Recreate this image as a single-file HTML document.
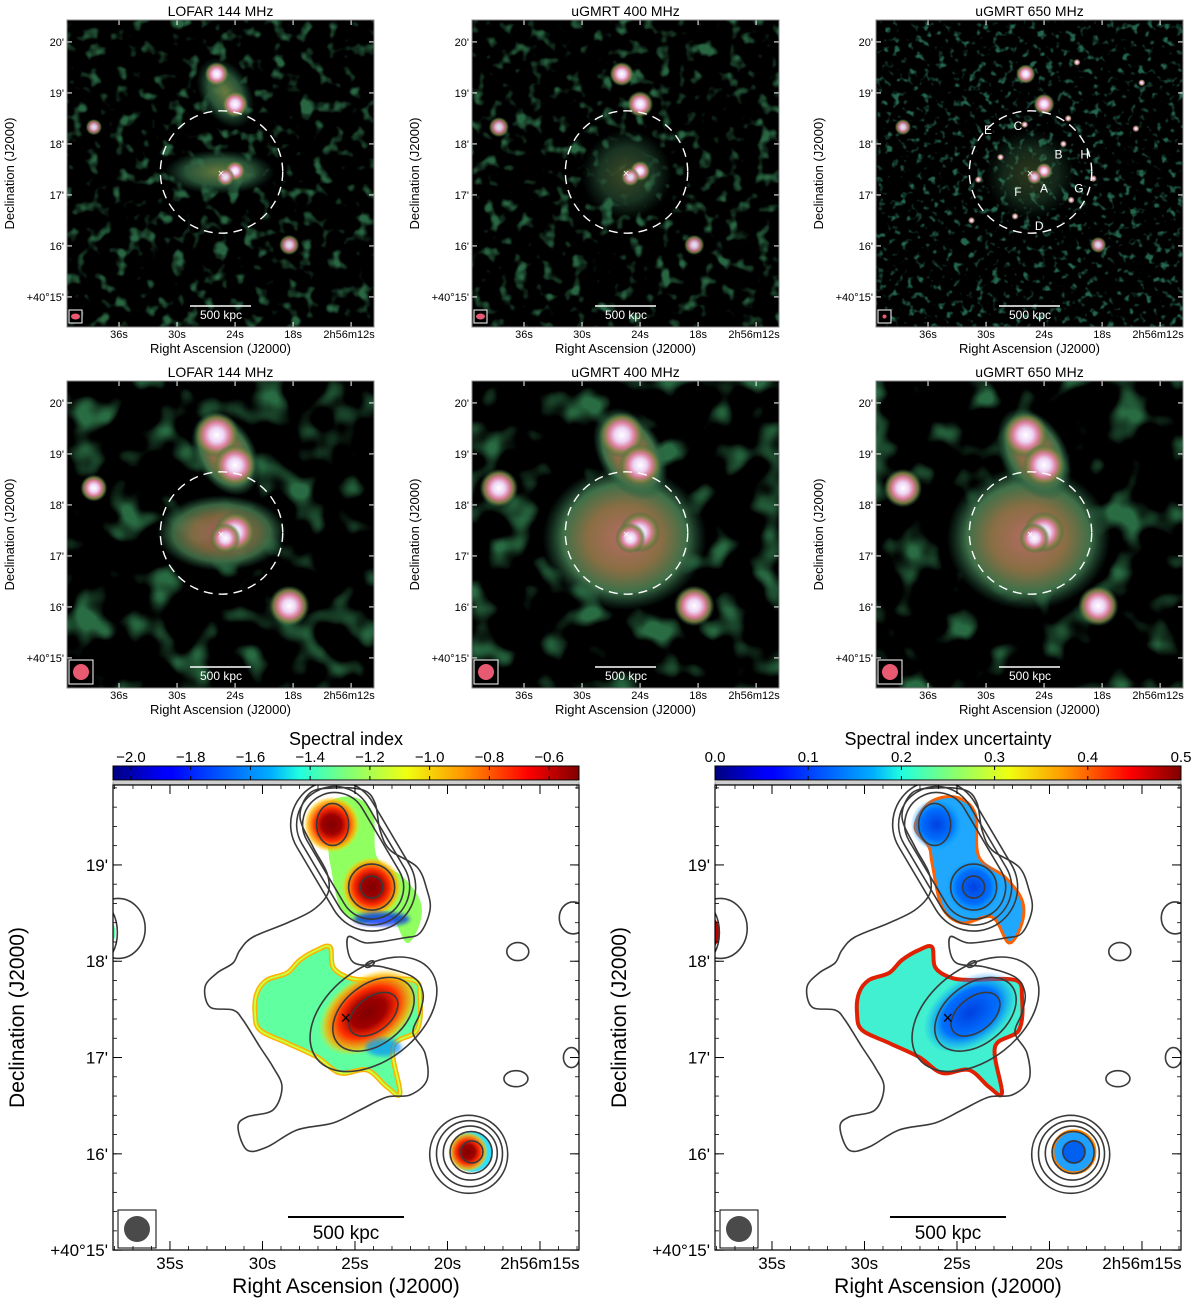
<!DOCTYPE html>
<html><head><meta charset="utf-8">
<style>
html,body{margin:0;padding:0;background:#fff;}
svg{display:block;font-family:"Liberation Sans","DejaVu Sans",sans-serif;}
</style></head>
<body>
<svg id="fig" width="1200" height="1306" viewBox="0 0 1200 1306" xmlns="http://www.w3.org/2000/svg">
<defs>
  <filter id="noiseA" x="0" y="0" width="1" height="1" color-interpolation-filters="sRGB">
    <feTurbulence type="fractalNoise" baseFrequency="0.07" numOctaves="2" seed="3"/>
    <feColorMatrix type="matrix" values="0 0 0 0 0.16  0 0 0 0 0.40  0 0 0 0 0.26  4.5 0 0 0 -2.5"/>
  </filter>
  <filter id="noiseC" x="0" y="0" width="1" height="1" color-interpolation-filters="sRGB">
    <feTurbulence type="fractalNoise" baseFrequency="0.13" numOctaves="2" seed="7"/>
    <feColorMatrix type="matrix" values="0 0 0 0 0.14  0 0 0 0 0.40  0 0 0 0 0.30  5 0 0 0 -2.85"/>
  </filter>
  <filter id="noiseB" x="0" y="0" width="1" height="1" color-interpolation-filters="sRGB">
    <feTurbulence type="fractalNoise" baseFrequency="0.028" numOctaves="2" seed="11"/>
    <feColorMatrix type="matrix" values="0 0 0 0 0.16  0 0 0 0 0.42  0 0 0 0 0.26  4.5 0 0 0 -2.45"/>
  </filter>
  <filter id="blur2"><feGaussianBlur stdDeviation="2"/></filter>
  <radialGradient id="srcGrad">
    <stop offset="0" stop-color="#ffffff"/>
    <stop offset="0.3" stop-color="#eed6f6"/>
    <stop offset="0.55" stop-color="#dc7f9c"/>
    <stop offset="0.78" stop-color="#7c8040" stop-opacity="0.9"/>
    <stop offset="1" stop-color="#2e6a48" stop-opacity="0"/>
  </radialGradient>
  <radialGradient id="haloGrad">
    <stop offset="0" stop-color="#b46c62"/>
    <stop offset="0.45" stop-color="#8a6e44"/>
    <stop offset="0.75" stop-color="#3f7048"/>
    <stop offset="1" stop-color="#1f5a40" stop-opacity="0"/>
  </radialGradient>
  <radialGradient id="haloGradWeak">
    <stop offset="0" stop-color="#6b7a3e"/>
    <stop offset="0.6" stop-color="#356a46" stop-opacity="0.8"/>
    <stop offset="1" stop-color="#1f5a40" stop-opacity="0"/>
  </radialGradient>
  <radialGradient id="redCore">
    <stop offset="0" stop-color="#800000"/>
    <stop offset="0.35" stop-color="#a00000"/>
    <stop offset="0.6" stop-color="#ff3000"/>
    <stop offset="0.85" stop-color="#ffb000" stop-opacity="0.8"/>
    <stop offset="1" stop-color="#ffe000" stop-opacity="0"/>
  </radialGradient>
  <radialGradient id="blueCore">
    <stop offset="0" stop-color="#0040e0"/>
    <stop offset="0.6" stop-color="#0070ff"/>
    <stop offset="1" stop-color="#00a0ff" stop-opacity="0"/>
  </radialGradient>
  <linearGradient id="jet" x1="0" x2="1" y1="0" y2="0">
    <stop offset="0" stop-color="#00007f"/>
    <stop offset="0.11" stop-color="#0000ff"/>
    <stop offset="0.125" stop-color="#0000ff"/>
    <stop offset="0.34" stop-color="#00b0ff"/>
    <stop offset="0.4" stop-color="#20ffe0"/>
    <stop offset="0.5" stop-color="#7dff7a"/>
    <stop offset="0.63" stop-color="#f0ff10"/>
    <stop offset="0.75" stop-color="#ff9800"/>
    <stop offset="0.89" stop-color="#ff0000"/>
    <stop offset="1" stop-color="#7f0000"/>
  </linearGradient>
</defs>
<g id="root"></g>
</svg>
<script>
// ---------- data ----------
const panelTitles = ["LOFAR 144 MHz","uGMRT 400 MHz","uGMRT 650 MHz"];
const raTickSecs = [36,30,24,18,12];
const raTickLabels = ["36s","30s","24s","18s","2h56m12s"];
const decTickMins = [20,19,18,17,16,15];
const decTickLabels = ["20'","19'","18'","17'","16'","+40°15'"];
const bigRaTickSecs = [35,30,25,20,15];
const bigRaTickLabels = ["35s","30s","25s","20s","2h56m15s"];
const bigDecTickMins = [19,18,17,16,15];
const bigDecTickLabels = ["19'","18'","17'","16'","+40°15'"];
const cbTicksA = [-2.0,-1.8,-1.6,-1.4,-1.2,-1.0,-0.8,-0.6];
const cbTicksB = [0.0,0.1,0.2,0.3,0.4,0.5];
const srcRA  = [25.9, 24.0, 24.0, 25.0, 18.4, 38.6];
const srcDec = [19.37,18.78,17.47,17.35,16.02,18.33];
const srcNames = ["north-galaxy-1","north-galaxy-2","central-galaxy-a","central-galaxy-b","south-source","west-source"];
const srcSizeTop = [[0.24,0.8],[0.26,0.9],[0.2,0.8],[0.18,0.7],[0.2,0.7],[0.2,0.7]];
const srcSizeMid = [[0.45,1],[0.42,1],[0.4,1],[0.3,0.8],[0.4,1],[0.38,1]];
const haloRA = 25.4, haloDec = 17.45, haloR = 1.2;
const labelNames = ["E","C","B","H","F","A","G","D"];
const labelRA = [29.8,26.7,22.5,19.8,26.7,24.0,20.4,24.5];
const labelDec = [18.27,18.35,17.79,17.79,17.06,17.13,17.13,16.39];
const extraRA650 = [28.5,26.0,31.5,21.5,18.9,14.5,13.9,27.0,22.0,30.8,21.2,20.6];
const extraDec650 = [17.74,18.38,16.5,18.5,17.32,18.3,19.2,16.58,18.0,17.3,16.9,19.6];

const root = document.getElementById('root');
const NS = "http://www.w3.org/2000/svg";
function el(tag, attrs, parent){
  const e = document.createElementNS(NS, tag);
  for (const k in attrs) e.setAttribute(k, attrs[k]);
  (parent||root).appendChild(e);
  return e;
}
function txt(s, attrs, parent){ const t = el('text', attrs, parent); t.textContent = s; return t; }

const panelX = [67,472,876], panelY = [20,381];
const PS = 307;
function smallAxes(x0,y0){
  return {
    x: ra => x0 + (41.38 - ra) * 9.67,
    y: dec => y0 + (20.43 - dec) * 51
  };
}
for (let row=0; row<2; row++){
  for (let c=0; c<3; c++){
    const x0 = panelX[c], y0 = panelY[row];
    const ax = smallAxes(x0,y0);
    const g = el('g',{});
    
    
    const cid = 'clip'+row+c;
    const cp = el('clipPath',{id:cid},g); el('rect',{x:x0,y:y0,width:PS,height:PS},cp);
    const ig = el('g',{'clip-path':'url(#'+cid+')'},g);
    el('rect',{x:x0,y:y0,width:PS,height:PS,fill:'#000'},ig);
    const nf = row===1 ? 'noiseB' : (c===2 ? 'noiseC' : 'noiseA');
    el('rect',{x:x0,y:y0,width:PS,height:PS,filter:'url(#'+nf+')'},ig);
    if (row===0 && c===0){
      el('ellipse',{cx:ax.x(25.6),cy:ax.y(17.45),rx:55,ry:22,fill:'url(#haloGradWeak)'},ig);
      el('ellipse',{cx:ax.x(25.0),cy:ax.y(19.0),rx:25,ry:38,fill:'url(#haloGradWeak)',transform:'rotate(-30 '+ax.x(25.0)+' '+ax.y(19.0)+')'},ig);
    } else if (row===0 && c===1){
      el('ellipse',{cx:ax.x(25.4),cy:ax.y(17.4),rx:45,ry:45,fill:'url(#haloGradWeak)',opacity:0.6},ig);
    } else if (row===0 && c===2){
      el('ellipse',{cx:ax.x(25.4),cy:ax.y(17.4),rx:45,ry:45,fill:'url(#haloGradWeak)',opacity:0.45},ig);
    } else if (row===1){
      if (c===0){
        el('ellipse',{cx:ax.x(25.4),cy:ax.y(17.45),rx:65,ry:38,fill:'url(#haloGrad)',opacity:0.9},ig);
        el('ellipse',{cx:ax.x(25.0),cy:ax.y(19.0),rx:30,ry:45,fill:'url(#haloGrad)',transform:'rotate(-30 '+ax.x(25.0)+' '+ax.y(19.0)+')'},ig);
      } else {
        el('ellipse',{cx:ax.x(25.6),cy:ax.y(17.35),rx:82,ry:72,fill:'url(#haloGrad)'},ig);
        el('ellipse',{cx:ax.x(25.0),cy:ax.y(19.0),rx:32,ry:50,fill:'url(#haloGrad)',transform:'rotate(-30 '+ax.x(25.0)+' '+ax.y(19.0)+')'},ig);
      }
    }
    for (let i=0;i<srcRA.length;i++){
      const sz = row===0 ? srcSizeTop[i] : srcSizeMid[i];
      let r = sz[0]*51*(row===0 && c===2 ? 0.8 : 1);
      if (row===1 && c===0 && i===5) r *= 0.7;
      if (row===0 && c===0 && i===5) r *= 0.8;
      const e = el('circle',{cx:ax.x(srcRA[i]),cy:ax.y(srcDec[i]),r:r,fill:'url(#srcGrad)',opacity:Math.min(1,sz[1]+0.2)},ig);
      
      
    }
    if (row===0 && c===2){
      for (let k=0;k<extraRA650.length;k++){
        el('circle',{cx:ax.x(extraRA650[k]),cy:ax.y(extraDec650[k]),r:3.5,fill:'url(#srcGrad)'},ig);
      }
    }
    const dc = el('circle',{cx:ax.x(haloRA),cy:ax.y(haloDec),r:haloR*51,fill:'none',stroke:'#fff','stroke-width':1.4,'stroke-dasharray':'9 6'},ig);
    
    
    txt('×',{x:ax.x(25.45),y:ax.y(17.43)+4,fill:'#fff','font-size':11,'text-anchor':'middle'},ig);
    if (row===0 && c===2){
      for (let k=0;k<labelNames.length;k++){
        const t = txt(labelNames[k],{x:ax.x(labelRA[k]),y:ax.y(labelDec[k])+4,fill:'#fff','font-size':12,'text-anchor':'middle'},ig);
        
        
      }
    }
    el('line',{x1:x0+123,x2:x0+184,y1:y0+286,y2:y0+286,stroke:'#fff','stroke-width':1.5},ig);
    const sb = txt('500 kpc',{x:x0+154,y:y0+299,fill:'#fff','font-size':12,'text-anchor':'middle'},ig);
    
    
    const bs = row===0 ? 13 : 24;
    el('rect',{x:x0+2,y:y0+PS-bs-4,width:bs,height:bs,fill:'#000',stroke:'#fff','stroke-width':1},ig);
    const beam = el('ellipse',{cx:x0+2+bs/2,cy:y0+PS-4-bs/2,rx:row===0?(c===2?2:4.5):8,ry:row===0?(c===2?2:3):8,fill:'#e85a72'},ig);
    
    
    for (let k=0;k<raTickSecs.length;k++){
      const xx = ax.x(raTickSecs[k]);
      el('line',{x1:xx,x2:xx,y1:y0+PS,y2:y0+PS-5,stroke:'#fff','stroke-width':1},ig);
      el('line',{x1:xx,x2:xx,y1:y0,y2:y0+5,stroke:'#fff','stroke-width':1},ig);
    }
    for (let k=0;k<decTickMins.length;k++){
      const yy = ax.y(decTickMins[k]);
      el('line',{x1:x0,x2:x0+5,y1:yy,y2:yy,stroke:'#fff','stroke-width':1},ig);
      el('line',{x1:x0+PS,x2:x0+PS-5,y1:yy,y2:yy,stroke:'#fff','stroke-width':1},ig);
    }
    el('rect',{x:x0,y:y0,width:PS,height:PS,fill:'none',stroke:'#888','stroke-width':1},g);
    const t = txt(panelTitles[c],{x:x0+PS/2,y:y0-4,'font-size':14,'text-anchor':'middle',fill:'#000'},g);
    
    
    for (let k=0;k<raTickSecs.length;k++){
      txt(raTickLabels[k],{x:ax.x(raTickSecs[k]) + (k===4?-2:0),y:y0+PS+11,'font-size':11,'text-anchor':'middle'},g);
    }
    for (let k=0;k<decTickMins.length;k++){
      txt(decTickLabels[k],{x:x0-3,y:ax.y(decTickMins[k])+4,'font-size':11,'text-anchor':'end'},g);
    }
    const xt = txt('Right Ascension (J2000)',{x:x0+PS/2,y:y0+PS+26,'font-size':13,'text-anchor':'middle'},g);
    
    
    const yt = txt('Declination (J2000)',{x:0,y:0,'font-size':13,'text-anchor':'middle',transform:'translate('+(x0-53)+','+(y0+PS/2)+') rotate(-90)'},g);
    
    
  }
}

const bigX = [113,715], bigY = 785, BW = 466, BH = 465;
const outerContour = [[348,937],[353,962],[383,967],[413,977],[423,993],[420,1013],[413,1033],[425,1053],[427,1080],[410,1095],[387,1097],[360,1110],[333,1123],[297,1130],[267,1147],[247,1150],[238,1127],[247,1117],[273,1110],[282,1087],[273,1067],[260,1047],[243,1020],[233,1010],[210,1007],[205,987],[217,973],[233,963],[240,950],[253,937],[287,923],[313,910],[328,893],[327,873],[313,847],[300,817],[310,793],[333,788],[363,790],[375,803],[380,830],[390,850],[417,867],[427,890],[430,910],[420,933],[403,938],[367,943]];
const centralPatch = [[257,993],[267,980],[287,973],[300,960],[317,950],[330,947],[333,967],[347,977],[367,980],[413,980],[420,997],[417,1030],[393,1047],[400,1093],[387,1087],[367,1070],[340,1073],[317,1057],[287,1043],[260,1030],[255,1013]];
const northPatch = [[313,827],[327,803],[353,797],[373,813],[377,857],[403,877],[420,900],[420,923],[407,943],[390,917],[360,923],[340,907],[330,863],[327,847]];

function smoothPath(pts, dx){
  const n = pts.length; let d = '';
  for (let i=0;i<n;i++){
    const p0 = pts[(i-1+n)%n], p1 = pts[i], p2 = pts[(i+1)%n], p3 = pts[(i+2)%n];
    if (i===0) d += 'M'+(p1[0]+dx)+','+p1[1];
    const c1x = p1[0]+(p2[0]-p0[0])/6, c1y = p1[1]+(p2[1]-p0[1])/6;
    const c2x = p2[0]-(p3[0]-p1[0])/6, c2y = p2[1]-(p3[1]-p1[1])/6;
    d += 'C'+(c1x+dx)+','+c1y+' '+(c2x+dx)+','+c2y+' '+(p2[0]+dx)+','+p2[1];
  }
  return d+'Z';
}
function bigAxes(x0){
  return {
    x: ra => x0 + (38.08 - ra) * 18.5,
    y: dec => bigY + (19.83 - dec) * 96.3
  };
}
const bigN1 = [26.1,19.42], bigN2 = [24.1,18.77], bigS = [18.68,16.02];
for (let p=0;p<2;p++){
  const x0 = bigX[p], dx = x0 - bigX[0];
  const ax = bigAxes(x0);
  const g = el('g',{});
  
  
  const cid = 'bclip'+p;
  const cp = el('clipPath',{id:cid},g); el('rect',{x:x0,y:bigY,width:BW,height:BH},cp);
  const ig = el('g',{'clip-path':'url(#'+cid+')'},g);
  el('rect',{x:x0,y:bigY,width:BW,height:BH,fill:'#fff'},ig);
  const cx = ax.x(srcRA[2]), cy = ax.y(srcDec[2]);
  const n1x = ax.x(bigN1[0]), n1y = ax.y(bigN1[1]), n2x = ax.x(bigN2[0]), n2y = ax.y(bigN2[1]);
  const sx = ax.x(bigS[0]), sy = ax.y(bigS[1]);
  const wx = ax.x(srcRA[5]), wy = ax.y(srcDec[5]);
  if (p===0){
    el('path',{d:smoothPath(centralPatch,dx),fill:'#60ffa0',stroke:'#ffb000','stroke-width':5},ig);
    el('path',{d:smoothPath(centralPatch,dx),fill:'none',stroke:'#c8ff40','stroke-width':2},ig);
    el('ellipse',{cx:cx-5,cy:cy,rx:55,ry:36,transform:'rotate(-35 '+(cx-5)+' '+cy+')',fill:'url(#redCore)'},ig);
    el('ellipse',{cx:cx+10,cy:cy+35,rx:18,ry:9,fill:'#0090ff',opacity:0.7,filter:'url(#blur2)'},ig);
    el('path',{d:smoothPath(northPatch,dx),fill:'#90ff60'},ig);
    el('circle',{cx:n1x-3,cy:n1y,r:28,fill:'url(#redCore)'},ig);
    el('circle',{cx:n2x,cy:n2y,r:30,fill:'url(#redCore)'},ig);
    el('ellipse',{cx:n2x+10,cy:n2y+32,rx:28,ry:7,fill:'#0030f0',opacity:0.8,filter:'url(#blur2)'},ig);
    el('circle',{cx:sx,cy:sy,r:20,fill:'#30e0ff'},ig);
    el('circle',{cx:sx-4,cy:sy,r:20,fill:'url(#redCore)'},ig);
    el('circle',{cx:wx-10,cy:wy+3,r:22,fill:'#50ffa0'},ig);
  } else {
    el('path',{d:smoothPath(centralPatch,dx),fill:'#40f0d0',stroke:'#e02000','stroke-width':4},ig);
    el('ellipse',{cx:cx-5,cy:cy,rx:52,ry:34,transform:'rotate(-35 '+(cx-5)+' '+cy+')',fill:'url(#blueCore)'},ig);
    el('path',{d:smoothPath(northPatch,dx),fill:'#20a8ff',stroke:'#ff6000','stroke-width':3},ig);
    el('circle',{cx:n1x,cy:n1y,r:26,fill:'url(#blueCore)'},ig);
    el('circle',{cx:n2x,cy:n2y,r:28,fill:'url(#blueCore)'},ig);
    el('circle',{cx:sx,cy:sy,r:21,fill:'#20a0ff',stroke:'#ff8000','stroke-width':3},ig);
    el('circle',{cx:sx,cy:sy,r:12,fill:'#0060f0'},ig);
    el('circle',{cx:wx-10,cy:wy+3,r:22,fill:'#30c0ff',stroke:'#c00000','stroke-width':4},ig);
  }
  const cs = {fill:'none',stroke:'#3a3a3a','stroke-width':1.6};
  const cg = el('g',{},ig);
  
  
  el('path',Object.assign({d:smoothPath(outerContour,dx)},cs),cg);
  [[28,17],[46,30],[72,46]].forEach(r=>{
    el('ellipse',Object.assign({cx:cx,cy:cy+2,rx:r[0],ry:r[1],transform:'rotate(-38 '+cx+' '+(cy+2)+')'},cs),cg);
  });
  el('ellipse',Object.assign({cx:n1x-2,cy:n1y,rx:16,ry:21},cs),cg);
  el('circle',Object.assign({cx:n2x,cy:n2y,r:11},cs),cg);
  el('circle',Object.assign({cx:n2x,cy:n2y,r:23},cs),cg);
  const mx = (n1x+n2x)/2, my = (n1y+n2y)/2;
  const ang = Math.atan2(n2y-n1y, n2x-n1x)*180/Math.PI;
  const len = Math.hypot(n2y-n1y, n2x-n1x);
  [32,38,44].forEach(w=>{
    el('rect',Object.assign({x:mx-len/2-w,y:my-w,width:len+2*w,height:2*w,rx:w,ry:w,transform:'rotate('+ang+' '+mx+' '+my+')'},cs),cg);
  });
  [11,21,27,33,39].forEach((r,k)=>{
    el('circle',Object.assign({cx:sx-k*0.8,cy:sy+k*0.6,r:r},cs),cg);
  });
  [12,20,28].forEach(r=>{
    el('ellipse',Object.assign({cx:wx-14,cy:wy+3,rx:r,ry:r*1.3},cs),cg);
  });
  el('ellipse',Object.assign({cx:ax.x(16.2),cy:ax.y(18.1),rx:11,ry:9},cs),cg);
  el('ellipse',Object.assign({cx:ax.x(13.3),cy:ax.y(17.0),rx:8,ry:10},cs),cg);
  el('ellipse',Object.assign({cx:ax.x(16.3),cy:ax.y(16.78),rx:12,ry:8},cs),cg);
  el('ellipse',Object.assign({cx:ax.x(24.2),cy:ax.y(17.97),rx:5,ry:2.5,transform:'rotate(-30 '+ax.x(24.2)+' '+ax.y(17.97)+')'},cs),cg);
  el('ellipse',Object.assign({cx:ax.x(37.8),cy:ax.y(18.34),rx:27,ry:30},cs),cg);
  el('ellipse',Object.assign({cx:ax.x(13.2),cy:ax.y(18.45),rx:14,ry:16},cs),cg);
  el('ellipse',Object.assign({cx:ax.x(25.9),cy:ax.y(14.92),rx:10,ry:8},cs),cg);
  el('ellipse',Object.assign({cx:ax.x(12.8),cy:ax.y(19.98),rx:22,ry:12},cs),cg);
  const xm = txt('×',{x:ax.x(25.5),y:ax.y(17.41)+6,'font-size':18,'text-anchor':'middle',fill:'#000'},ig);
  
  
  el('line',{x1:x0+175,x2:x0+291,y1:1217,y2:1217,stroke:'#000','stroke-width':2},ig);
  const sb = txt('500 kpc',{x:x0+233,y:1239,'font-size':19,'text-anchor':'middle'},ig);
  
  
  el('rect',{x:x0+5,y:1210,width:38,height:38,fill:'#fff',stroke:'#000','stroke-width':1},ig);
  const bm = el('circle',{cx:x0+24,cy:1229,r:13,fill:'#4a4a4a'},ig);
  
  
  for (let k=0;k<bigRaTickSecs.length;k++){
    const xx = ax.x(bigRaTickSecs[k]);
    el('line',{x1:xx,x2:xx,y1:bigY+BH,y2:bigY+BH-9,stroke:'#000','stroke-width':1},g);
    el('line',{x1:xx,x2:xx,y1:bigY,y2:bigY+9,stroke:'#000','stroke-width':1},g);
    txt(bigRaTickLabels[k],{x:xx,y:bigY+BH+19,'font-size':17,'text-anchor':'middle'},g);
  }
  for (let s=38;s>=13;s--){
    const xx = ax.x(s);
    if (xx<x0||xx>x0+BW) continue;
    el('line',{x1:xx,x2:xx,y1:bigY+BH,y2:bigY+BH-4,stroke:'#000','stroke-width':0.8},g);
    el('line',{x1:xx,x2:xx,y1:bigY,y2:bigY+4,stroke:'#000','stroke-width':0.8},g);
  }
  for (let k=0;k<bigDecTickMins.length;k++){
    const yy = ax.y(bigDecTickMins[k]);
    el('line',{x1:x0,x2:x0+9,y1:yy,y2:yy,stroke:'#000','stroke-width':1},g);
    el('line',{x1:x0+BW,x2:x0+BW-9,y1:yy,y2:yy,stroke:'#000','stroke-width':1},g);
    txt(bigDecTickLabels[k],{x:x0-5,y:yy+6,'font-size':17,'text-anchor':'end'},g);
  }
  for (let m=15;m<=19.8;m+=0.2){
    const yy = ax.y(m);
    el('line',{x1:x0,x2:x0+4,y1:yy,y2:yy,stroke:'#000','stroke-width':0.8},g);
    el('line',{x1:x0+BW,x2:x0+BW-4,y1:yy,y2:yy,stroke:'#000','stroke-width':0.8},g);
  }
  el('rect',{x:x0,y:bigY,width:BW,height:BH,fill:'none',stroke:'#000','stroke-width':1.2},g);
  const xt = txt('Right Ascension (J2000)',{x:x0+BW/2,y:1293,'font-size':21,'text-anchor':'middle'},g);
  
  
  const yt = txt('Declination (J2000)',{x:0,y:0,'font-size':21,'text-anchor':'middle',transform:'translate('+(x0-89)+','+(bigY+BH/2)+') rotate(-90)'},g);
  
  
  const cbg = el('g',{});
  
  
  el('rect',{x:x0,y:766,width:BW,height:14,fill:'url(#jet)',stroke:'#000','stroke-width':1},cbg);
  const ticks = p===0 ? cbTicksA : cbTicksB;
  const vmin = p===0 ? -2.06 : 0.0, vmax = p===0 ? -0.50 : 0.5;
  const cbx = v => x0 + (v - vmin)/(vmax - vmin) * BW;
  for (let k=0;k<ticks.length;k++){
    const xx = cbx(ticks[k]);
    el('line',{x1:xx,x2:xx,y1:766,y2:770,stroke:'#000','stroke-width':1},cbg);
    el('line',{x1:xx,x2:xx,y1:776,y2:780,stroke:'#000','stroke-width':1},cbg);
    const lbl = p===0 ? ticks[k].toFixed(1).replace('-','\u2212') : ticks[k].toFixed(1);
    txt(lbl,{x:xx,y:762,'font-size':15,'text-anchor':'middle'},cbg);
  }
  el('rect',{x:x0,y:782,width:BW,height:2,fill:'none',stroke:'#888','stroke-width':0.8},cbg);
  const ct = txt(p===0 ? 'Spectral index' : 'Spectral index uncertainty',{x:x0+BW/2,y:745,'font-size':18,'text-anchor':'middle'},cbg);
  
  
}
</script>
</body></html>
